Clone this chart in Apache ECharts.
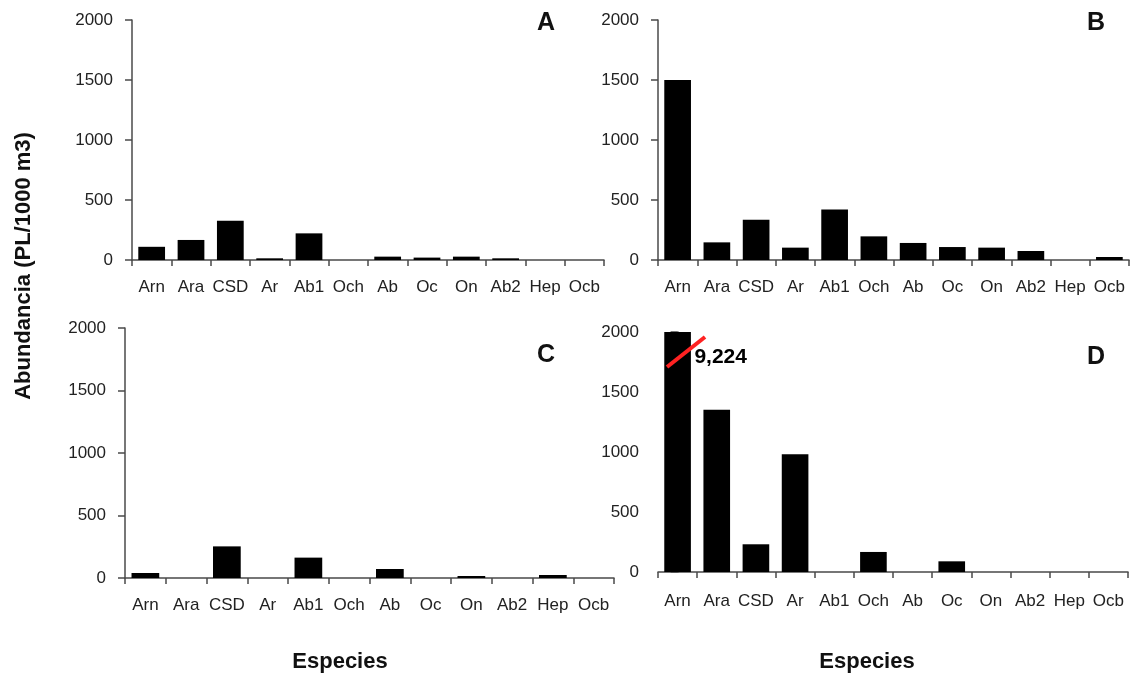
<!DOCTYPE html>
<html>
<head>
<meta charset="utf-8">
<script src="https://cdn.jsdelivr.net/npm/echarts@6/dist/echarts.min.js"></script>
<style>html,body{margin:0;padding:0;background:#fff;}#c{width:1130px;height:677px;}</style>
</head>
<body>
<div id="c"></div>
<script>
const categories = ['Arn','Ara','CSD','Ar','Ab1','Och','Ab','Oc','On','Ab2','Hep','Ocb'];
const valuesA = [110, 167, 328, 14, 222, 0, 28, 20, 28, 14, 0, 0];
const valuesB = [1500, 147, 336, 103, 420, 197, 142, 108, 103, 75, 0, 25];
const valuesC = [40, 0, 253, 0, 163, 0, 72, 0, 16, 0, 24, 0];
const valuesD = [9224, 1353, 231, 981, 0, 167, 0, 89, 0, 0, 0, 0];
const yTicks = [0, 500, 1000, 1500, 2000];
const panelLetters = ['A', 'B', 'C', 'D'];
const yTitle = 'Abundancia (PL/1000 m3)';
const xTitle = 'Especies';
// axis-break annotation on panel D (data coordinates: category index, value)
const breakSlash = [[-0.27, 1708], [0.70, 1958]];
const breakLabelPos = [1.1, 1790];

const FONT = "'Liberation Sans', Arial, sans-serif";
const axisColor = '#4a4a4a';
const grids = [
  {left: 132, top: 20, width: 472, height: 240},
  {left: 658, top: 20, width: 471, height: 240},
  {left: 125, top: 328, width: 489, height: 250},
  {left: 658, top: 332, width: 470, height: 240}
];
const labelMargins = [19, 19, 19, 21];
const allValues = [valuesA, valuesB, valuesC, valuesD];

const xAxes = grids.map((g, i) => ({
  type: 'category', gridIndex: i, data: categories,
  boundaryGap: true,
  axisLine: {lineStyle: {color: axisColor, width: 1.5}},
  axisTick: {show: true, length: 6, lineStyle: {color: axisColor, width: 1.5}},
  axisLabel: {interval: 0, margin: labelMargins[i], fontSize: 17, color: '#222', fontFamily: FONT}
}));
xAxes.push({type: 'value', gridIndex: 3, min: -0.5, max: 11.5, show: false});

const yAxes = grids.map((g, i) => ({
  type: 'value', gridIndex: i, min: yTicks[0], max: yTicks[yTicks.length - 1],
  interval: yTicks[1] - yTicks[0],
  splitLine: {show: false},
  axisLine: {show: true, lineStyle: {color: axisColor, width: 1.5}},
  axisTick: {show: true, length: 7, lineStyle: {color: axisColor, width: 1.5}},
  axisLabel: {margin: 19, fontSize: 17, color: '#222', fontFamily: FONT, formatter: v => String(v)}
}));

const series = allValues.map((vals, i) => ({
  type: 'bar', xAxisIndex: i, yAxisIndex: i, data: vals,
  barWidth: '68%', clip: true,
  itemStyle: {color: '#000'}, silent: true
}));
series.push({
  type: 'line', xAxisIndex: 4, yAxisIndex: 3, data: breakSlash,
  symbol: 'none', lineStyle: {color: '#f22', width: 4}, silent: true, z: 5
});
series.push({
  type: 'scatter', xAxisIndex: 4, yAxisIndex: 3, data: [breakLabelPos],
  symbolSize: 0, silent: true, z: 6,
  itemStyle: {opacity: 1},
  label: {show: true, position: 'inside', fontSize: 21, fontWeight: 'bold', color: '#000',
    textBorderWidth: 0, opacity: 1,
    fontFamily: FONT, formatter: () => valuesD[0].toLocaleString('en-US')}
});

const letterPos = [[546, 23], [1096, 23], [546, 355], [1096, 357]];
const graphic = panelLetters.map((t, i) => ({
  type: 'text', x: letterPos[i][0], y: letterPos[i][1],
  style: {text: t, font: "bold 25px " + FONT, fill: '#111', textAlign: 'center', textVerticalAlign: 'middle'}
}));
graphic.push({
  type: 'text', x: 24, y: 266, rotation: Math.PI / 2,
  style: {text: yTitle, font: "bold 22px " + FONT, fill: '#111', textAlign: 'center', textVerticalAlign: 'middle'}
});
[[340, 662], [867, 662]].forEach(p => graphic.push({
  type: 'text', x: p[0], y: p[1],
  style: {text: xTitle, font: "bold 22px " + FONT, fill: '#111', textAlign: 'center', textVerticalAlign: 'middle'}
}));

const chart = echarts.init(document.getElementById('c'), null, {renderer: 'canvas'});
chart.setOption({
  animation: false,
  backgroundColor: '#fff',
  grid: grids,
  xAxis: xAxes,
  yAxis: yAxes,
  series: series,
  graphic: graphic
});
</script>
</body>
</html>
